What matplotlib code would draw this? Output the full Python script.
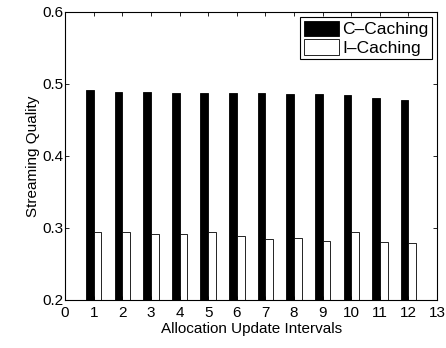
import numpy as np
import matplotlib
matplotlib.use('Agg')
import matplotlib.pyplot as plt

plt.rcParams['font.family'] = ['Liberation Sans', 'DejaVu Sans']

# data
intervals = [1, 2, 3, 4, 5, 6, 7, 8, 9, 10, 11, 12]
c_caching = [0.491, 0.489, 0.489, 0.488, 0.487, 0.487, 0.487, 0.486, 0.486, 0.485, 0.481, 0.477]
i_caching = [0.295, 0.295, 0.292, 0.292, 0.295, 0.289, 0.285, 0.286, 0.282, 0.294, 0.280, 0.279]
labels = ['C–Caching', 'I–Caching']

x = np.array(intervals)
w = 0.27

fig = plt.figure(figsize=(4.46, 3.48), dpi=100)
ax = fig.add_axes([0.146, 0.138, 0.834, 0.828])

ax.bar(x - w/2, c_caching, w, color='black', edgecolor='black', linewidth=0.6, label=labels[0])
ax.bar(x + w/2, i_caching, w, color='white', edgecolor='black', linewidth=0.6, label=labels[1])

ax.set_xlim(0, 13)
ax.set_ylim(0.2, 0.6)
ax.set_xticks(range(0, 14))
ax.set_yticks([0.2, 0.3, 0.4, 0.5, 0.6])
ax.set_yticklabels(['0.2', '0.3', '0.4', '0.5', '0.6'])
ax.tick_params(direction='in', length=3, width=0.6, labelsize=11, top=True, right=True)
ax.tick_params(axis='y', pad=1)
ax.tick_params(axis='x', pad=4)
for s in ax.spines.values():
    s.set_linewidth(0.8)

ax.set_xlabel('Allocation Update Intervals', fontsize=11, labelpad=2)
ax.set_ylabel('Streaming Quality', fontsize=11, labelpad=2)

leg = ax.legend(loc='upper right', fontsize=12.5, fancybox=False, framealpha=1,
                edgecolor='black', handlelength=2.0, handleheight=1.0,
                handletextpad=0.2, borderaxespad=0.3, borderpad=0.2, labelspacing=0.1)
leg.get_frame().set_linewidth(0.8)

fig.savefig('out.png', dpi=100)
